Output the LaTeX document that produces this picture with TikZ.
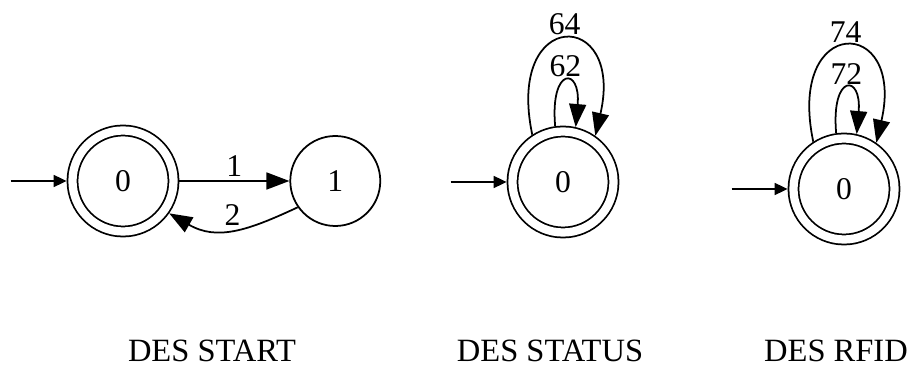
\documentclass[tikz,border=0pt]{standalone}
\usepackage{fontspec}
\setmainfont{Liberation Serif}
\usetikzlibrary{arrows.meta, positioning, automata}

\begin{document}
\begin{tikzpicture}[line width=1pt,
    every node/.style={font=\fontsize{18}{21}\selectfont},
    st/.style={circle, draw, inner sep=0pt, minimum size=1.8cm},
    acc/.style={circle, draw, double, double distance=0.165cm, inner sep=0pt, minimum size=2.02cm, outer sep=0.118cm},
    edgetip/.style={-{Triangle[length=0.46cm, width=0.34cm]}},
    starttip/.style={-{Triangle[length=0.26cm, width=0.24cm]}},
    lbl/.style={inner sep=1pt, above=1pt},
    caption/.style={font=\fontsize{18.5}{22}\selectfont}]
    \useasboundingbox (0,0) rectangle (18.32,7.42);

    % DES START
    \node[acc] (s0) at (2.46,3.80) {0};
    \node[st] (s1) [right=2.2cm of s0] {1};
    \coordinate[left=1.12cm of s0] (in0);
    \draw[starttip] (in0) -- (s0);
    \draw[edgetip] (s0) -- node[lbl] {1} (s1);
    \draw[edgetip] (s1.215) to[out=205, in=-30, looseness=1.1] node[lbl] {2} (s0.325);

    % DES STATUS
    \node[acc] (t0) at (11.26,3.78) {0};
    \coordinate[left=1.12cm of t0] (in1);
    \draw[starttip] (in1) -- (t0);
    \draw[edgetip] (t0.98) to[out=95, in=85, looseness=7.5] node[lbl] {62} (t0.77);
    \draw[edgetip] (t0.123) to[out=102, in=77, looseness=5.3] node[lbl] {64} (t0.55);

    % DES RFID
    \node[acc] (r0) at (16.88,3.64) {0};
    \coordinate[left=1.12cm of r0] (in2);
    \draw[starttip] (in2) -- (r0);
    \draw[edgetip] (r0.98) to[out=95, in=85, looseness=7.5] node[lbl] {72} (r0.77);
    \draw[edgetip] (r0.123) to[out=102, in=77, looseness=5.3] node[lbl] {74} (r0.55);

    % Captions
    \node[caption] (capstart) at (4.24,0.40) {DES START};
    \node[caption] (capstatus) at (11.00,0.40) {DES STATUS};
    \node[caption] (caprfid) at (16.72,0.40) {DES RFID};
\end{tikzpicture}
\end{document}
